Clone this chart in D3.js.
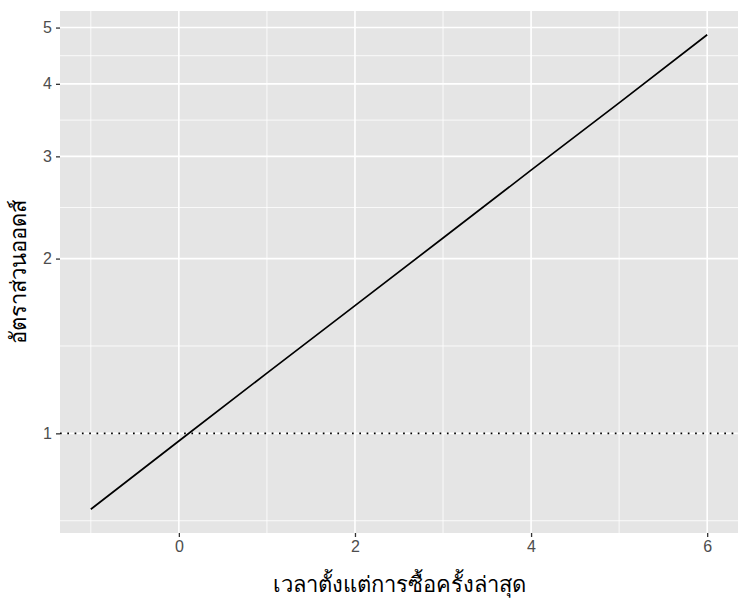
<!DOCTYPE html>
<html>
<head>
<meta charset="utf-8">
<script src="https://cdn.jsdelivr.net/npm/d3@7"></script>
<style>
  body { margin: 0; background: #fff; }
  svg { display: block; }
  text { font-family: "DejaVu Sans", "Noto Sans", sans-serif; }
</style>
</head>
<body>
<div id="chart"></div>
<script>
// values
var xTicks = [0, 2, 4, 6];
var xMinor = [-1, 1, 3, 5];
var yTicks = [1, 2, 3, 4, 5];
var yMinor = [0.7071, 1.4142, 2.4495, 3.4641, 4.4721];
var timeSince = [-1, 0, 1, 2, 3, 4, 5, 6];
var oddsRatio = [0.74, 0.97, 1.27, 1.66, 2.17, 2.84, 3.71, 4.86];
var refLine = 1;
var xTitle = "เวลาตั้งแต่การซื้อครั้งล่าสุด";
var yTitle = "อัตราส่วนออดส์";

var width = 750, height = 600;
var margin = {t:11, r:12, b:67, l:60};
var plotWidth = width - margin.l - margin.r,
    plotHeight = height - margin.t - margin.b;

var svg = d3.select("#chart")
    .append("svg")
    .attr("width", width)
    .attr("height", height);

var plot = svg.append("g")
    .attr("transform", "translate(" + margin.l + "," + margin.t + ")");

// ggplot style 5% expansion
var xr = d3.extent(timeSince), xpad = (xr[1] - xr[0]) * 0.05;
var lr = d3.extent(oddsRatio).map(Math.log), lpad = (lr[1] - lr[0]) * 0.05;

var x = d3.scaleLinear()
    .domain([xr[0] - xpad, xr[1] + xpad])
    .range([0, plotWidth]);

var y = d3.scaleLog()
    .domain([Math.exp(lr[0] - lpad), Math.exp(lr[1] + lpad)])
    .range([plotHeight, 0]);

plot.append("rect")
    .attr("width", plotWidth)
    .attr("height", plotHeight)
    .style("fill", "#E5E5E5");

// minor grid
plot.selectAll(".ymin").data(yMinor).enter().append("line")
    .attr("x1", 0).attr("x2", plotWidth)
    .attr("y1", function(d){ return y(d); })
    .attr("y2", function(d){ return y(d); })
    .style("stroke", "#fff").style("stroke-width", 0.8);
plot.selectAll(".xmin").data(xMinor).enter().append("line")
    .attr("y1", 0).attr("y2", plotHeight)
    .attr("x1", function(d){ return x(d); })
    .attr("x2", function(d){ return x(d); })
    .style("stroke", "#fff").style("stroke-width", 0.8);

// major grid
plot.selectAll(".ymaj").data(yTicks).enter().append("line")
    .attr("x1", 0).attr("x2", plotWidth)
    .attr("y1", function(d){ return y(d); })
    .attr("y2", function(d){ return y(d); })
    .style("stroke", "#fff").style("stroke-width", 1.6);
plot.selectAll(".xmaj").data(xTicks).enter().append("line")
    .attr("y1", 0).attr("y2", plotHeight)
    .attr("x1", function(d){ return x(d); })
    .attr("x2", function(d){ return x(d); })
    .style("stroke", "#fff").style("stroke-width", 1.6);

// reference line at odds ratio 1
plot.append("line")
    .attr("x1", 0).attr("x2", plotWidth)
    .attr("y1", y(refLine)).attr("y2", y(refLine))
    .style("stroke", "#000")
    .style("stroke-width", 1.7)
    .style("stroke-dasharray", "1.7,5.6");

var line = d3.line()
    .x(function(d, i){ return x(timeSince[i]); })
    .y(function(d){ return y(d); });

plot.append("path")
    .datum(oddsRatio)
    .attr("d", line)
    .style("fill", "none")
    .style("stroke", "#000")
    .style("stroke-width", 1.7);

// axes
var xAxis = plot.append("g")
    .attr("transform", "translate(0," + plotHeight + ")")
    .call(d3.axisBottom(x).tickValues(xTicks).tickFormat(d3.format("d")).tickSize(4).tickPadding(4));
var yAxis = plot.append("g")
    .call(d3.axisLeft(y).tickValues(yTicks).tickFormat(d3.format("d")).tickSize(4).tickPadding(4));

[xAxis, yAxis].forEach(function(a){
    a.select(".domain").remove();
    a.selectAll(".tick line").style("stroke", "#333").style("stroke-width", 1.3);
    a.selectAll(".tick text")
        .style("fill", "#4D4D4D")
        .style("font-size", "16px")
        .style("font-family", "Liberation Sans, Arial, sans-serif");
});

svg.append("text")
    .attr("x", margin.l + plotWidth / 2)
    .attr("y", 592)
    .attr("text-anchor", "middle")
    .style("font-size", "22px")
    .style("fill", "#000")
    .text(xTitle);

svg.append("text")
    .attr("transform", "translate(26," + (margin.t + plotHeight / 2) + ") rotate(-90)")
    .attr("text-anchor", "middle")
    .style("font-size", "22px")
    .style("fill", "#000")
    .text(yTitle);
</script>
</body>
</html>
